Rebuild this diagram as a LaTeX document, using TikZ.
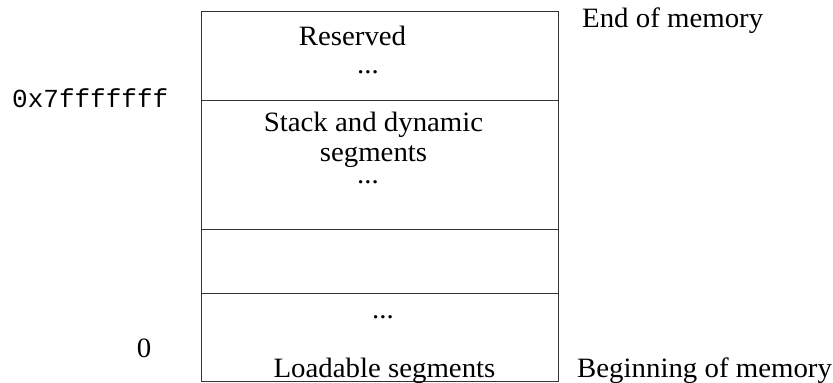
\documentclass[tikz,border=0pt]{standalone}
\usepackage{fontspec}
\setmainfont[FakeStretch=1.03]{Liberation Serif}
\setmonofont{Liberation Mono}
\begin{document}
\begin{tikzpicture}[x=1pt,y=-1pt,
  lbl/.style={anchor=base,inner sep=0pt,font=\fontsize{28}{30}\selectfont},
  mono/.style={anchor=base west,inner sep=0pt,font=\fontsize{26}{30}\selectfont\ttfamily},
  cell/.style={draw=black!80,line width=1pt}]
\useasboundingbox (0,0) rectangle (833,383);
\coordinate (tl) at (201,11);
\coordinate (br) at (558,381);
\draw[cell] (tl) rectangle (br);
\coordinate (l1) at (201,100); \coordinate (r1) at (558,100);
\coordinate (l2) at (201,229); \coordinate (r2) at (558,229);
\coordinate (l3) at (201,293); \coordinate (r3) at (558,293);
\draw[cell] (l1) -- (r1);
\draw[cell] (l2) -- (r2);
\draw[cell] (l3) -- (r3);
\node[lbl] (res) at (352.5,45) {Reserved};
\node[lbl] (d1) at (368,73) {...};
\node[lbl] (st1) at (373.5,131) {Stack and dynamic};
\node[lbl] (st2) at (373.5,161) {segments};
\node[lbl] (d2) at (368,183.5) {...};
\node[lbl] (d3) at (383,318) {...};
\node[lbl] (load) at (384.5,377) {Loadable segments};
\node[mono] (addr) at (12,107) {0x7fffffff};
\node[lbl] (zero) at (144,357) {0};
\node[lbl,anchor=base west] (end) at (582,27) {End of memory};
\node[lbl,anchor=base west] (beg) at (577,377) {Beginning of memory};
\end{tikzpicture}
\end{document}
